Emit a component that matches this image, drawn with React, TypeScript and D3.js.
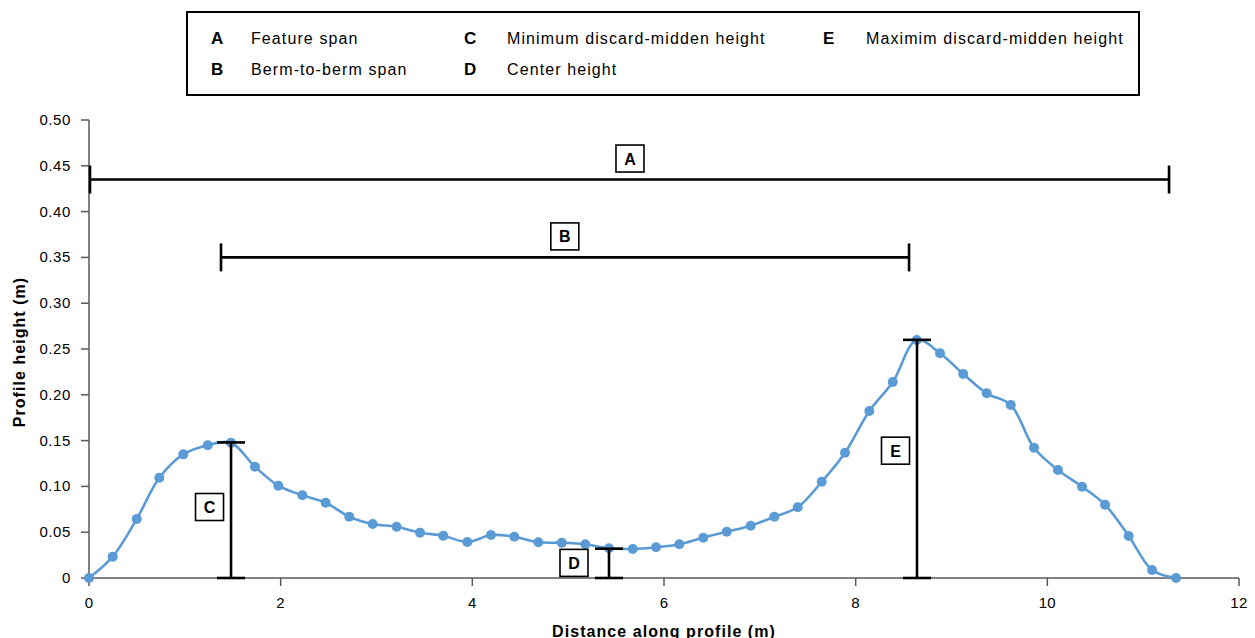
import React from "react";
import * as d3 from "d3";

// ---- data ----
const distance = [0, 0.247, 0.498, 0.734, 0.984, 1.239, 1.482, 1.732, 1.975, 2.226, 2.47, 2.716, 2.96, 3.21, 3.454, 3.697, 3.948, 4.195, 4.438, 4.689, 4.933, 5.179, 5.426, 5.674, 5.917, 6.16, 6.41, 6.655, 6.905, 7.151, 7.395, 7.646, 7.889, 8.143, 8.387, 8.637, 8.88, 9.123, 9.367, 9.618, 9.861, 10.111, 10.362, 10.602, 10.849, 11.093, 11.343];
const height = [0, 0.0233, 0.0644, 0.1095, 0.135, 0.145, 0.1477, 0.1215, 0.1008, 0.0903, 0.0822, 0.0669, 0.059, 0.056, 0.0495, 0.0462, 0.0393, 0.0469, 0.0451, 0.039, 0.0385, 0.0368, 0.0324, 0.0317, 0.0335, 0.0368, 0.044, 0.0505, 0.0571, 0.0669, 0.0772, 0.1051, 0.1368, 0.1823, 0.214, 0.2598, 0.2453, 0.2227, 0.2016, 0.1889, 0.1422, 0.1179, 0.0997, 0.08, 0.0459, 0.0087, 0];

const xTicks = [0, 2, 4, 6, 8, 10, 12];
const yTicks = [0, 0.05, 0.1, 0.15, 0.2, 0.25, 0.3, 0.35, 0.4, 0.45, 0.5];

const legendLetters = ["A", "B", "C", "D", "E"];
const legendTexts = ["Feature span", "Berm-to-berm span", "Minimum discard-midden height", "Center height", "Maximim discard-midden height"];

// horizontal spans (A, B)
const spanLetters = ["A", "B"];
const spanStart = [0, 1.367];
const spanEnd = [11.27, 8.557];
const spanLevel = [0.435, 0.35];
const spanLabelX = [5.645, 4.965];

// vertical heights (C, D, E)
const heightLetters = ["C", "D", "E"];
const heightX = [1.482, 5.426, 8.64];
const heightTop = [0.148, 0.032, 0.26];
const heightLabelY = [0.0775, 0.0165, 0.139];

const W = 1255;
const H = 638;
const FONT = "'Liberation Sans', Arial, Helvetica, sans-serif";
const BLUE = "#5B9BD5";
const AXIS = "#595959";

export default function App() {
  const x = d3.scaleLinear().domain([0, 12]).range([89, 1239]);
  const y = d3.scaleLinear().domain([0, 0.5]).range([578, 120]);

  const pts = distance.map((d, i) => [d, height[i]] as [number, number]);
  const line = d3
    .line<[number, number]>()
    .x((d) => x(d[0]))
    .y((d) => y(d[1]))
    .curve(d3.curveCatmullRom.alpha(0.5));

  const legendColX = [211, 464, 823];
  const legendTextOff = 40;
  const legendRowY = [44, 75];

  const boxW = 28;
  const boxH = 27;
  const cap = 14;

  const Box = ({ cx, cy, t }: { cx: number; cy: number; t: string }) => (
    <g>
      <rect x={cx - boxW / 2} y={cy - boxH / 2} width={boxW} height={boxH} fill="#fff" stroke="#000" strokeWidth={1.6} />
      <text x={cx} y={cy + 6} textAnchor="middle" fontFamily={FONT} fontWeight="bold" fontSize={16} fill="#000">
        {t}
      </text>
    </g>
  );

  return (
    <svg width={W} height={H} style={{ position: "absolute", left: 0, top: 0, background: "#fff" }}>
      {/* legend */}
      <rect x={187} y={12} width={952} height={83} fill="#fff" stroke="#000" strokeWidth={2} />
      {legendLetters.map((l, i) => {
        const col = Math.floor(i / 2);
        const row = i % 2;
        return (
          <g key={l}>
            <text x={legendColX[col]} y={legendRowY[row]} fontFamily={FONT} fontWeight="bold" fontSize={17} fill="#000">
              {l}
            </text>
            <text x={legendColX[col] + legendTextOff + (col > 0 ? 3 : 0)} y={legendRowY[row]} fontFamily={FONT} fontSize={16} letterSpacing={1.1} fill="#000">
              {legendTexts[i]}
            </text>
          </g>
        );
      })}

      {/* axes */}
      <line x1={x(0)} x2={x(0)} y1={y(0.5)} y2={y(0)} stroke={AXIS} strokeWidth={1.5} />
      <line x1={x(0)} x2={x(12)} y1={y(0)} y2={y(0)} stroke={AXIS} strokeWidth={1.5} />
      {yTicks.map((t) => (
        <g key={"y" + t}>
          <line x1={x(0) - 8} x2={x(0)} y1={y(t)} y2={y(t)} stroke={AXIS} strokeWidth={1.5} />
          <text x={71} y={y(t) + 5} textAnchor="end" fontFamily={FONT} fontSize={15} letterSpacing={0.6} fill="#000">
            {t === 0 ? "0" : d3.format(".2f")(t)}
          </text>
        </g>
      ))}
      {xTicks.map((t) => (
        <g key={"x" + t}>
          <line x1={x(t)} x2={x(t)} y1={y(0)} y2={y(0) + 8} stroke={AXIS} strokeWidth={1.5} />
          <text x={x(t)} y={608} textAnchor="middle" fontFamily={FONT} fontSize={15} letterSpacing={0.3} fill="#000">
            {t}
          </text>
        </g>
      ))}
      <text x={664} y={637} textAnchor="middle" fontFamily={FONT} fontWeight="bold" fontSize={16} letterSpacing={1.05} fill="#000">
        Distance along profile (m)
      </text>
      <text transform={`translate(25,352) rotate(-90)`} textAnchor="middle" fontFamily={FONT} fontWeight="bold" fontSize={16} letterSpacing={1.05} fill="#000">
        Profile height (m)
      </text>

      {/* series */}
      <path d={line(pts) || ""} fill="none" stroke={BLUE} strokeWidth={2.6} />
      {pts.map((p, i) => (
        <circle key={i} cx={x(p[0])} cy={y(p[1])} r={5} fill={BLUE} />
      ))}

      {/* spans */}
      {spanLetters.map((l, i) => (
        <g key={l}>
          <line x1={x(spanStart[i])} x2={x(spanEnd[i])} y1={y(spanLevel[i])} y2={y(spanLevel[i])} stroke="#000" strokeWidth={2.6} />
          <line x1={x(spanStart[i]) + 1} x2={x(spanStart[i]) + 1} y1={y(spanLevel[i]) - cap} y2={y(spanLevel[i]) + cap} stroke="#000" strokeWidth={2.6} />
          <line x1={x(spanEnd[i])} x2={x(spanEnd[i])} y1={y(spanLevel[i]) - cap} y2={y(spanLevel[i]) + cap} stroke="#000" strokeWidth={2.6} />
          <Box cx={x(spanLabelX[i])} cy={y(spanLevel[i]) - 21} t={l} />
        </g>
      ))}

      {/* heights */}
      {heightLetters.map((l, i) => (
        <g key={l}>
          <line x1={x(heightX[i])} x2={x(heightX[i])} y1={y(0)} y2={y(heightTop[i])} stroke="#000" strokeWidth={2.6} />
          <line x1={x(heightX[i]) - cap} x2={x(heightX[i]) + cap} y1={y(0)} y2={y(0)} stroke="#000" strokeWidth={2.6} />
          <line x1={x(heightX[i]) - cap} x2={x(heightX[i]) + cap} y1={y(heightTop[i])} y2={y(heightTop[i])} stroke="#000" strokeWidth={2.6} />
          <Box cx={x(heightX[i]) - (l === "D" ? 35 : 21.5)} cy={y(heightLabelY[i])} t={l} />
        </g>
      ))}
    </svg>
  );
}
